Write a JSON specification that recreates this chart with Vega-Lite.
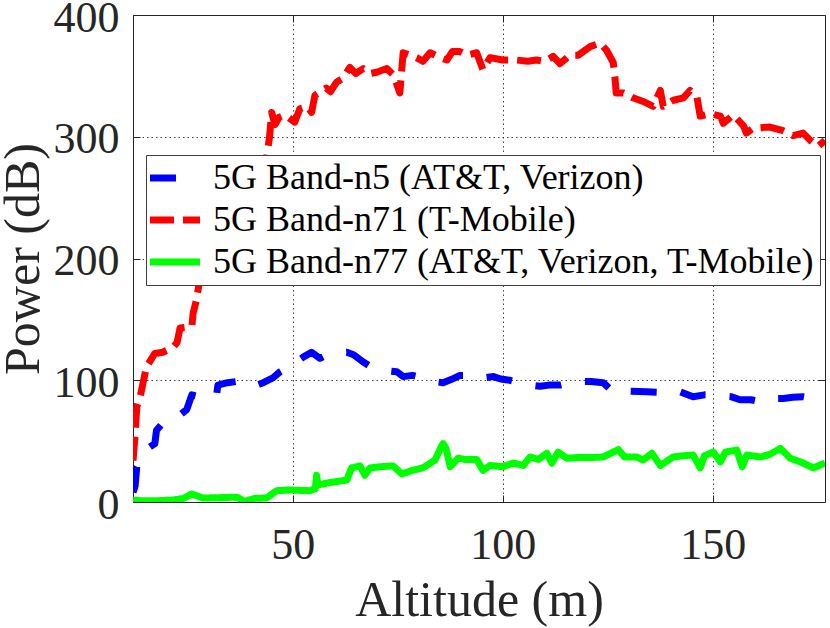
{
  "$schema": "https://vega.github.io/schema/vega-lite/v6.json",
  "width": 692,
  "height": 487,
  "autosize": {"type": "none"},
  "padding": {"left": 133, "top": 15, "right": 5, "bottom": 126},
  "background": "white",
  "config": {
    "view": {"stroke": "#262626", "strokeWidth": 1},
    "font": "Liberation Serif",
    "axis": {
      "labelFont": "Liberation Serif",
      "titleFont": "Liberation Serif",
      "labelColor": "#262626",
      "titleColor": "#262626",
      "labelFontSize": 44,
      "titleFontSize": 50,
      "titleFontWeight": "normal",
      "domain": false,
      "tickColor": "#262626",
      "tickSize": -7,
      "tickWidth": 1,
      "gridColor": "#262626",
      "gridDash": [1.5, 3],
      "gridOpacity": 0.85,
      "gridWidth": 1,
      "labelOverlap": false,
      "labelBound": false,
      "labelFlush": false
    },
    "legend": {
      "orient": "none",
      "legendX": 13,
      "legendY": 140,
      "padding": 5,
      "strokeColor": "#404040",
      "fillColor": "white",
      "labelFont": "Liberation Serif",
      "labelFontSize": 36,
      "labelColor": "black",
      "symbolType": "M-2.5,0H2.5",
      "symbolSize": 400,
      "symbolStrokeWidth": 7,
      "symbolOffset": 6,
      "rowPadding": 6,
      "labelOffset": 20,
      "labelLimit": 1000,
      "cornerRadius": 0
    }
  },
  "data": {"values": [
    {"band": "5G Band-n5 (AT&T, Verizon)", "alt": 12.0, "power": 8},
    {"band": "5G Band-n5 (AT&T, Verizon)", "alt": 12.5, "power": 13},
    {"band": "5G Band-n5 (AT&T, Verizon)", "alt": 12.9, "power": 29},
    {"band": "5G Band-n5 (AT&T, Verizon)", "alt": 15.5, "power": 44},
    {"band": "5G Band-n5 (AT&T, Verizon)", "alt": 17.2, "power": 48},
    {"band": "5G Band-n5 (AT&T, Verizon)", "alt": 17.6, "power": 59},
    {"band": "5G Band-n5 (AT&T, Verizon)", "alt": 19.1, "power": 65},
    {"band": "5G Band-n5 (AT&T, Verizon)", "alt": 21.0, "power": 68},
    {"band": "5G Band-n5 (AT&T, Verizon)", "alt": 23.0, "power": 71},
    {"band": "5G Band-n5 (AT&T, Verizon)", "alt": 24.8, "power": 76},
    {"band": "5G Band-n5 (AT&T, Verizon)", "alt": 26.0, "power": 88},
    {"band": "5G Band-n5 (AT&T, Verizon)", "alt": 29.5, "power": 85},
    {"band": "5G Band-n5 (AT&T, Verizon)", "alt": 31.9, "power": 88},
    {"band": "5G Band-n5 (AT&T, Verizon)", "alt": 32.2, "power": 96},
    {"band": "5G Band-n5 (AT&T, Verizon)", "alt": 34.5, "power": 98},
    {"band": "5G Band-n5 (AT&T, Verizon)", "alt": 36.7, "power": 99},
    {"band": "5G Band-n5 (AT&T, Verizon)", "alt": 39.8, "power": 99},
    {"band": "5G Band-n5 (AT&T, Verizon)", "alt": 41.5, "power": 96},
    {"band": "5G Band-n5 (AT&T, Verizon)", "alt": 43.0, "power": 98},
    {"band": "5G Band-n5 (AT&T, Verizon)", "alt": 45.3, "power": 102},
    {"band": "5G Band-n5 (AT&T, Verizon)", "alt": 47.0, "power": 107},
    {"band": "5G Band-n5 (AT&T, Verizon)", "alt": 49.5, "power": 112},
    {"band": "5G Band-n5 (AT&T, Verizon)", "alt": 52.5, "power": 119},
    {"band": "5G Band-n5 (AT&T, Verizon)", "alt": 54.5, "power": 123},
    {"band": "5G Band-n5 (AT&T, Verizon)", "alt": 56.5, "power": 118},
    {"band": "5G Band-n5 (AT&T, Verizon)", "alt": 58.9, "power": 122},
    {"band": "5G Band-n5 (AT&T, Verizon)", "alt": 62.9, "power": 123},
    {"band": "5G Band-n5 (AT&T, Verizon)", "alt": 64.5, "power": 121},
    {"band": "5G Band-n5 (AT&T, Verizon)", "alt": 66.8, "power": 115},
    {"band": "5G Band-n5 (AT&T, Verizon)", "alt": 69.1, "power": 110},
    {"band": "5G Band-n5 (AT&T, Verizon)", "alt": 72.0, "power": 108},
    {"band": "5G Band-n5 (AT&T, Verizon)", "alt": 74.8, "power": 107},
    {"band": "5G Band-n5 (AT&T, Verizon)", "alt": 76.3, "power": 103},
    {"band": "5G Band-n5 (AT&T, Verizon)", "alt": 78.5, "power": 104},
    {"band": "5G Band-n5 (AT&T, Verizon)", "alt": 81.0, "power": 102},
    {"band": "5G Band-n5 (AT&T, Verizon)", "alt": 83.5, "power": 99},
    {"band": "5G Band-n5 (AT&T, Verizon)", "alt": 85.8, "power": 98},
    {"band": "5G Band-n5 (AT&T, Verizon)", "alt": 88.0, "power": 101},
    {"band": "5G Band-n5 (AT&T, Verizon)", "alt": 89.8, "power": 104},
    {"band": "5G Band-n5 (AT&T, Verizon)", "alt": 93.8, "power": 104},
    {"band": "5G Band-n5 (AT&T, Verizon)", "alt": 95.5, "power": 102},
    {"band": "5G Band-n5 (AT&T, Verizon)", "alt": 97.8, "power": 103},
    {"band": "5G Band-n5 (AT&T, Verizon)", "alt": 99.5, "power": 101},
    {"band": "5G Band-n5 (AT&T, Verizon)", "alt": 101.7, "power": 100},
    {"band": "5G Band-n5 (AT&T, Verizon)", "alt": 104.0, "power": 98},
    {"band": "5G Band-n5 (AT&T, Verizon)", "alt": 106.5, "power": 96},
    {"band": "5G Band-n5 (AT&T, Verizon)", "alt": 108.9, "power": 95},
    {"band": "5G Band-n5 (AT&T, Verizon)", "alt": 111.0, "power": 96},
    {"band": "5G Band-n5 (AT&T, Verizon)", "alt": 113.6, "power": 96},
    {"band": "5G Band-n5 (AT&T, Verizon)", "alt": 117.6, "power": 99},
    {"band": "5G Band-n5 (AT&T, Verizon)", "alt": 121.0, "power": 99},
    {"band": "5G Band-n5 (AT&T, Verizon)", "alt": 123.9, "power": 98},
    {"band": "5G Band-n5 (AT&T, Verizon)", "alt": 125.5, "power": 93},
    {"band": "5G Band-n5 (AT&T, Verizon)", "alt": 127.1, "power": 89},
    {"band": "5G Band-n5 (AT&T, Verizon)", "alt": 130.0, "power": 91},
    {"band": "5G Band-n5 (AT&T, Verizon)", "alt": 134.3, "power": 90.6},
    {"band": "5G Band-n5 (AT&T, Verizon)", "alt": 138.0, "power": 90},
    {"band": "5G Band-n5 (AT&T, Verizon)", "alt": 142.2, "power": 90.6},
    {"band": "5G Band-n5 (AT&T, Verizon)", "alt": 145.3, "power": 86.5},
    {"band": "5G Band-n5 (AT&T, Verizon)", "alt": 148.0, "power": 88},
    {"band": "5G Band-n5 (AT&T, Verizon)", "alt": 150.1, "power": 88},
    {"band": "5G Band-n5 (AT&T, Verizon)", "alt": 152.0, "power": 87},
    {"band": "5G Band-n5 (AT&T, Verizon)", "alt": 154.3, "power": 86.5},
    {"band": "5G Band-n5 (AT&T, Verizon)", "alt": 156.5, "power": 84},
    {"band": "5G Band-n5 (AT&T, Verizon)", "alt": 159.0, "power": 84},
    {"band": "5G Band-n5 (AT&T, Verizon)", "alt": 162.0, "power": 82},
    {"band": "5G Band-n5 (AT&T, Verizon)", "alt": 164.5, "power": 85},
    {"band": "5G Band-n5 (AT&T, Verizon)", "alt": 166.8, "power": 85},
    {"band": "5G Band-n5 (AT&T, Verizon)", "alt": 169.0, "power": 86},
    {"band": "5G Band-n5 (AT&T, Verizon)", "alt": 171.5, "power": 86.5},
    {"band": "5G Band-n5 (AT&T, Verizon)", "alt": 174.0, "power": 85},
    {"band": "5G Band-n5 (AT&T, Verizon)", "alt": 176.7, "power": 84},

    {"band": "5G Band-n71 (T-Mobile)", "alt": 12.0, "power": 34},
    {"band": "5G Band-n71 (T-Mobile)", "alt": 12.5, "power": 55},
    {"band": "5G Band-n71 (T-Mobile)", "alt": 12.9, "power": 78},
    {"band": "5G Band-n71 (T-Mobile)", "alt": 13.8, "power": 88},
    {"band": "5G Band-n71 (T-Mobile)", "alt": 15.2, "power": 111},
    {"band": "5G Band-n71 (T-Mobile)", "alt": 17.2, "power": 122},
    {"band": "5G Band-n71 (T-Mobile)", "alt": 19.1, "power": 123},
    {"band": "5G Band-n71 (T-Mobile)", "alt": 21.5, "power": 127},
    {"band": "5G Band-n71 (T-Mobile)", "alt": 22.5, "power": 131},
    {"band": "5G Band-n71 (T-Mobile)", "alt": 23.2, "power": 143},
    {"band": "5G Band-n71 (T-Mobile)", "alt": 26.0, "power": 144},
    {"band": "5G Band-n71 (T-Mobile)", "alt": 26.3, "power": 155},
    {"band": "5G Band-n71 (T-Mobile)", "alt": 27.1, "power": 166},
    {"band": "5G Band-n71 (T-Mobile)", "alt": 28.0, "power": 185},
    {"band": "5G Band-n71 (T-Mobile)", "alt": 30.0, "power": 203},
    {"band": "5G Band-n71 (T-Mobile)", "alt": 33.0, "power": 222},
    {"band": "5G Band-n71 (T-Mobile)", "alt": 36.0, "power": 243},
    {"band": "5G Band-n71 (T-Mobile)", "alt": 39.0, "power": 262},
    {"band": "5G Band-n71 (T-Mobile)", "alt": 42.0, "power": 275},
    {"band": "5G Band-n71 (T-Mobile)", "alt": 43.8, "power": 283},
    {"band": "5G Band-n71 (T-Mobile)", "alt": 44.5, "power": 300},
    {"band": "5G Band-n71 (T-Mobile)", "alt": 45.0, "power": 320},
    {"band": "5G Band-n71 (T-Mobile)", "alt": 45.8, "power": 310},
    {"band": "5G Band-n71 (T-Mobile)", "alt": 46.8, "power": 316},
    {"band": "5G Band-n71 (T-Mobile)", "alt": 48.2, "power": 318},
    {"band": "5G Band-n71 (T-Mobile)", "alt": 50.5, "power": 312},
    {"band": "5G Band-n71 (T-Mobile)", "alt": 51.7, "power": 323},
    {"band": "5G Band-n71 (T-Mobile)", "alt": 53.5, "power": 325},
    {"band": "5G Band-n71 (T-Mobile)", "alt": 54.5, "power": 320},
    {"band": "5G Band-n71 (T-Mobile)", "alt": 55.3, "power": 334},
    {"band": "5G Band-n71 (T-Mobile)", "alt": 58.0, "power": 340},
    {"band": "5G Band-n71 (T-Mobile)", "alt": 59.0, "power": 337},
    {"band": "5G Band-n71 (T-Mobile)", "alt": 60.5, "power": 345},
    {"band": "5G Band-n71 (T-Mobile)", "alt": 62.0, "power": 348},
    {"band": "5G Band-n71 (T-Mobile)", "alt": 63.6, "power": 357},
    {"band": "5G Band-n71 (T-Mobile)", "alt": 65.0, "power": 352},
    {"band": "5G Band-n71 (T-Mobile)", "alt": 66.8, "power": 356},
    {"band": "5G Band-n71 (T-Mobile)", "alt": 68.5, "power": 352},
    {"band": "5G Band-n71 (T-Mobile)", "alt": 70.0, "power": 353},
    {"band": "5G Band-n71 (T-Mobile)", "alt": 72.4, "power": 356},
    {"band": "5G Band-n71 (T-Mobile)", "alt": 73.9, "power": 351},
    {"band": "5G Band-n71 (T-Mobile)", "alt": 75.0, "power": 341},
    {"band": "5G Band-n71 (T-Mobile)", "alt": 75.5, "power": 336},
    {"band": "5G Band-n71 (T-Mobile)", "alt": 76.3, "power": 369},
    {"band": "5G Band-n71 (T-Mobile)", "alt": 78.0, "power": 367},
    {"band": "5G Band-n71 (T-Mobile)", "alt": 79.5, "power": 365},
    {"band": "5G Band-n71 (T-Mobile)", "alt": 81.0, "power": 362},
    {"band": "5G Band-n71 (T-Mobile)", "alt": 82.7, "power": 369},
    {"band": "5G Band-n71 (T-Mobile)", "alt": 84.5, "power": 366},
    {"band": "5G Band-n71 (T-Mobile)", "alt": 86.7, "power": 363},
    {"band": "5G Band-n71 (T-Mobile)", "alt": 88.0, "power": 370},
    {"band": "5G Band-n71 (T-Mobile)", "alt": 89.8, "power": 370},
    {"band": "5G Band-n71 (T-Mobile)", "alt": 91.5, "power": 367},
    {"band": "5G Band-n71 (T-Mobile)", "alt": 93.8, "power": 369},
    {"band": "5G Band-n71 (T-Mobile)", "alt": 95.3, "power": 355},
    {"band": "5G Band-n71 (T-Mobile)", "alt": 97.0, "power": 365},
    {"band": "5G Band-n71 (T-Mobile)", "alt": 100.0, "power": 363},
    {"band": "5G Band-n71 (T-Mobile)", "alt": 103.3, "power": 363},
    {"band": "5G Band-n71 (T-Mobile)", "alt": 106.0, "power": 362},
    {"band": "5G Band-n71 (T-Mobile)", "alt": 108.0, "power": 363},
    {"band": "5G Band-n71 (T-Mobile)", "alt": 110.0, "power": 362},
    {"band": "5G Band-n71 (T-Mobile)", "alt": 112.0, "power": 366},
    {"band": "5G Band-n71 (T-Mobile)", "alt": 113.6, "power": 360},
    {"band": "5G Band-n71 (T-Mobile)", "alt": 116.0, "power": 367},
    {"band": "5G Band-n71 (T-Mobile)", "alt": 118.0, "power": 367},
    {"band": "5G Band-n71 (T-Mobile)", "alt": 120.8, "power": 374},
    {"band": "5G Band-n71 (T-Mobile)", "alt": 123.2, "power": 377},
    {"band": "5G Band-n71 (T-Mobile)", "alt": 124.7, "power": 371},
    {"band": "5G Band-n71 (T-Mobile)", "alt": 126.3, "power": 361},
    {"band": "5G Band-n71 (T-Mobile)", "alt": 126.7, "power": 349},
    {"band": "5G Band-n71 (T-Mobile)", "alt": 127.0, "power": 336},
    {"band": "5G Band-n71 (T-Mobile)", "alt": 128.7, "power": 336},
    {"band": "5G Band-n71 (T-Mobile)", "alt": 131.0, "power": 332},
    {"band": "5G Band-n71 (T-Mobile)", "alt": 133.4, "power": 329},
    {"band": "5G Band-n71 (T-Mobile)", "alt": 135.8, "power": 325},
    {"band": "5G Band-n71 (T-Mobile)", "alt": 137.5, "power": 338},
    {"band": "5G Band-n71 (T-Mobile)", "alt": 138.2, "power": 325},
    {"band": "5G Band-n71 (T-Mobile)", "alt": 140.6, "power": 330},
    {"band": "5G Band-n71 (T-Mobile)", "alt": 143.0, "power": 332},
    {"band": "5G Band-n71 (T-Mobile)", "alt": 144.6, "power": 338},
    {"band": "5G Band-n71 (T-Mobile)", "alt": 146.2, "power": 333},
    {"band": "5G Band-n71 (T-Mobile)", "alt": 147.0, "power": 317},
    {"band": "5G Band-n71 (T-Mobile)", "alt": 149.4, "power": 319},
    {"band": "5G Band-n71 (T-Mobile)", "alt": 151.8, "power": 317},
    {"band": "5G Band-n71 (T-Mobile)", "alt": 152.5, "power": 311},
    {"band": "5G Band-n71 (T-Mobile)", "alt": 154.9, "power": 318},
    {"band": "5G Band-n71 (T-Mobile)", "alt": 157.3, "power": 309},
    {"band": "5G Band-n71 (T-Mobile)", "alt": 158.0, "power": 303},
    {"band": "5G Band-n71 (T-Mobile)", "alt": 159.6, "power": 307},
    {"band": "5G Band-n71 (T-Mobile)", "alt": 163.6, "power": 308},
    {"band": "5G Band-n71 (T-Mobile)", "alt": 166.7, "power": 305},
    {"band": "5G Band-n71 (T-Mobile)", "alt": 169.1, "power": 301},
    {"band": "5G Band-n71 (T-Mobile)", "alt": 171.5, "power": 303},
    {"band": "5G Band-n71 (T-Mobile)", "alt": 173.2, "power": 297},
    {"band": "5G Band-n71 (T-Mobile)", "alt": 175.0, "power": 292},
    {"band": "5G Band-n71 (T-Mobile)", "alt": 176.7, "power": 297},

    {"band": "5G Band-n77 (AT&T, Verizon, T-Mobile)", "alt": 12.0, "power": 1.6},
    {"band": "5G Band-n77 (AT&T, Verizon, T-Mobile)", "alt": 14.0, "power": 1},
    {"band": "5G Band-n77 (AT&T, Verizon, T-Mobile)", "alt": 17.5, "power": 1},
    {"band": "5G Band-n77 (AT&T, Verizon, T-Mobile)", "alt": 21.5, "power": 1.6},
    {"band": "5G Band-n77 (AT&T, Verizon, T-Mobile)", "alt": 24.0, "power": 3},
    {"band": "5G Band-n77 (AT&T, Verizon, T-Mobile)", "alt": 26.0, "power": 6.6},
    {"band": "5G Band-n77 (AT&T, Verizon, T-Mobile)", "alt": 28.6, "power": 3.3},
    {"band": "5G Band-n77 (AT&T, Verizon, T-Mobile)", "alt": 32.0, "power": 3.5},
    {"band": "5G Band-n77 (AT&T, Verizon, T-Mobile)", "alt": 36.7, "power": 4},
    {"band": "5G Band-n77 (AT&T, Verizon, T-Mobile)", "alt": 38.6, "power": 0.5},
    {"band": "5G Band-n77 (AT&T, Verizon, T-Mobile)", "alt": 41.0, "power": 3},
    {"band": "5G Band-n77 (AT&T, Verizon, T-Mobile)", "alt": 43.8, "power": 3.3},
    {"band": "5G Band-n77 (AT&T, Verizon, T-Mobile)", "alt": 46.2, "power": 9.3},
    {"band": "5G Band-n77 (AT&T, Verizon, T-Mobile)", "alt": 49.4, "power": 9.9},
    {"band": "5G Band-n77 (AT&T, Verizon, T-Mobile)", "alt": 52.0, "power": 9.5},
    {"band": "5G Band-n77 (AT&T, Verizon, T-Mobile)", "alt": 54.1, "power": 9.3},
    {"band": "5G Band-n77 (AT&T, Verizon, T-Mobile)", "alt": 55.4, "power": 11},
    {"band": "5G Band-n77 (AT&T, Verizon, T-Mobile)", "alt": 55.7, "power": 22},
    {"band": "5G Band-n77 (AT&T, Verizon, T-Mobile)", "alt": 56.0, "power": 14},
    {"band": "5G Band-n77 (AT&T, Verizon, T-Mobile)", "alt": 58.9, "power": 16},
    {"band": "5G Band-n77 (AT&T, Verizon, T-Mobile)", "alt": 62.9, "power": 18},
    {"band": "5G Band-n77 (AT&T, Verizon, T-Mobile)", "alt": 64.0, "power": 28},
    {"band": "5G Band-n77 (AT&T, Verizon, T-Mobile)", "alt": 66.0, "power": 29.6},
    {"band": "5G Band-n77 (AT&T, Verizon, T-Mobile)", "alt": 67.2, "power": 22},
    {"band": "5G Band-n77 (AT&T, Verizon, T-Mobile)", "alt": 68.4, "power": 28},
    {"band": "5G Band-n77 (AT&T, Verizon, T-Mobile)", "alt": 71.0, "power": 29},
    {"band": "5G Band-n77 (AT&T, Verizon, T-Mobile)", "alt": 73.9, "power": 29.6},
    {"band": "5G Band-n77 (AT&T, Verizon, T-Mobile)", "alt": 76.0, "power": 23},
    {"band": "5G Band-n77 (AT&T, Verizon, T-Mobile)", "alt": 78.5, "power": 26},
    {"band": "5G Band-n77 (AT&T, Verizon, T-Mobile)", "alt": 81.0, "power": 28},
    {"band": "5G Band-n77 (AT&T, Verizon, T-Mobile)", "alt": 83.9, "power": 34.5},
    {"band": "5G Band-n77 (AT&T, Verizon, T-Mobile)", "alt": 85.3, "power": 45},
    {"band": "5G Band-n77 (AT&T, Verizon, T-Mobile)", "alt": 85.8, "power": 48},
    {"band": "5G Band-n77 (AT&T, Verizon, T-Mobile)", "alt": 86.5, "power": 44},
    {"band": "5G Band-n77 (AT&T, Verizon, T-Mobile)", "alt": 87.5, "power": 29},
    {"band": "5G Band-n77 (AT&T, Verizon, T-Mobile)", "alt": 89.4, "power": 36},
    {"band": "5G Band-n77 (AT&T, Verizon, T-Mobile)", "alt": 91.0, "power": 35},
    {"band": "5G Band-n77 (AT&T, Verizon, T-Mobile)", "alt": 93.8, "power": 35},
    {"band": "5G Band-n77 (AT&T, Verizon, T-Mobile)", "alt": 95.3, "power": 26},
    {"band": "5G Band-n77 (AT&T, Verizon, T-Mobile)", "alt": 97.0, "power": 30},
    {"band": "5G Band-n77 (AT&T, Verizon, T-Mobile)", "alt": 100.0, "power": 29},
    {"band": "5G Band-n77 (AT&T, Verizon, T-Mobile)", "alt": 102.5, "power": 32},
    {"band": "5G Band-n77 (AT&T, Verizon, T-Mobile)", "alt": 104.9, "power": 30},
    {"band": "5G Band-n77 (AT&T, Verizon, T-Mobile)", "alt": 106.5, "power": 37},
    {"band": "5G Band-n77 (AT&T, Verizon, T-Mobile)", "alt": 108.5, "power": 35},
    {"band": "5G Band-n77 (AT&T, Verizon, T-Mobile)", "alt": 110.5, "power": 40},
    {"band": "5G Band-n77 (AT&T, Verizon, T-Mobile)", "alt": 111.7, "power": 32},
    {"band": "5G Band-n77 (AT&T, Verizon, T-Mobile)", "alt": 113.2, "power": 41},
    {"band": "5G Band-n77 (AT&T, Verizon, T-Mobile)", "alt": 115.2, "power": 36},
    {"band": "5G Band-n77 (AT&T, Verizon, T-Mobile)", "alt": 118.0, "power": 36.5},
    {"band": "5G Band-n77 (AT&T, Verizon, T-Mobile)", "alt": 121.0, "power": 36.5},
    {"band": "5G Band-n77 (AT&T, Verizon, T-Mobile)", "alt": 123.9, "power": 37},
    {"band": "5G Band-n77 (AT&T, Verizon, T-Mobile)", "alt": 127.5, "power": 43},
    {"band": "5G Band-n77 (AT&T, Verizon, T-Mobile)", "alt": 129.0, "power": 37},
    {"band": "5G Band-n77 (AT&T, Verizon, T-Mobile)", "alt": 131.9, "power": 37},
    {"band": "5G Band-n77 (AT&T, Verizon, T-Mobile)", "alt": 133.4, "power": 34.5},
    {"band": "5G Band-n77 (AT&T, Verizon, T-Mobile)", "alt": 135.5, "power": 40},
    {"band": "5G Band-n77 (AT&T, Verizon, T-Mobile)", "alt": 137.5, "power": 30},
    {"band": "5G Band-n77 (AT&T, Verizon, T-Mobile)", "alt": 140.6, "power": 37},
    {"band": "5G Band-n77 (AT&T, Verizon, T-Mobile)", "alt": 143.0, "power": 38},
    {"band": "5G Band-n77 (AT&T, Verizon, T-Mobile)", "alt": 145.3, "power": 38.6},
    {"band": "5G Band-n77 (AT&T, Verizon, T-Mobile)", "alt": 147.0, "power": 28},
    {"band": "5G Band-n77 (AT&T, Verizon, T-Mobile)", "alt": 148.0, "power": 38},
    {"band": "5G Band-n77 (AT&T, Verizon, T-Mobile)", "alt": 150.1, "power": 41},
    {"band": "5G Band-n77 (AT&T, Verizon, T-Mobile)", "alt": 151.8, "power": 33},
    {"band": "5G Band-n77 (AT&T, Verizon, T-Mobile)", "alt": 153.0, "power": 41},
    {"band": "5G Band-n77 (AT&T, Verizon, T-Mobile)", "alt": 155.7, "power": 42.7},
    {"band": "5G Band-n77 (AT&T, Verizon, T-Mobile)", "alt": 157.0, "power": 29},
    {"band": "5G Band-n77 (AT&T, Verizon, T-Mobile)", "alt": 158.1, "power": 38.6},
    {"band": "5G Band-n77 (AT&T, Verizon, T-Mobile)", "alt": 161.3, "power": 37},
    {"band": "5G Band-n77 (AT&T, Verizon, T-Mobile)", "alt": 163.5, "power": 39},
    {"band": "5G Band-n77 (AT&T, Verizon, T-Mobile)", "alt": 166.1, "power": 44},
    {"band": "5G Band-n77 (AT&T, Verizon, T-Mobile)", "alt": 168.4, "power": 36},
    {"band": "5G Band-n77 (AT&T, Verizon, T-Mobile)", "alt": 171.5, "power": 32},
    {"band": "5G Band-n77 (AT&T, Verizon, T-Mobile)", "alt": 173.9, "power": 28},
    {"band": "5G Band-n77 (AT&T, Verizon, T-Mobile)", "alt": 176.7, "power": 32}
  ]},
  "layer": [
    {
      "mark": {"type": "line", "strokeWidth": 7, "strokeCap": "butt", "strokeJoin": "round", "clip": true},
      "encoding": {
        "x": {
          "field": "alt", "type": "quantitative",
          "scale": {"domain": [12, 176.7], "nice": false, "zero": false},
          "axis": {
            "orient": "bottom",
            "values": [50, 100, 150],
            "title": "Altitude (m)",
            "labelBaseline": "alphabetic",
            "labelPadding": 63,
            "titleBaseline": "alphabetic",
            "titleX": 346,
            "titleY": 113,
            "titleAnchor": "middle",
            "titleAlign": "center"
          }
        },
        "y": {
          "field": "power", "type": "quantitative",
          "scale": {"domain": [0, 400], "nice": false},
          "axis": {
            "orient": "left",
            "values": [0, 100, 200, 300, 400],
            "title": "Power (dB)",
            "labelPadding": 21,
            "labelBaseline": "alphabetic",
            "labelOffset": 16,
            "titleAngle": -90,
            "titleBaseline": "alphabetic",
            "titleX": -95,
            "titleY": 243.5,
            "titleAlign": "center",
            "titleAnchor": "middle"
          }
        },
        "color": {
          "field": "band", "type": "nominal", "title": null,
          "scale": {
            "domain": ["5G Band-n5 (AT&T, Verizon)", "5G Band-n71 (T-Mobile)", "5G Band-n77 (AT&T, Verizon, T-Mobile)"],
            "range": ["#0000FF", "#FF0000", "#00FF00"]
          },
          "legend": {"labelFont": "Liberation Serif", "labelFontSize": 36}
        },
        "strokeDash": {
          "field": "band", "type": "nominal", "title": null,
          "scale": {
            "domain": ["5G Band-n5 (AT&T, Verizon)", "5G Band-n71 (T-Mobile)", "5G Band-n77 (AT&T, Verizon, T-Mobile)"],
            "range": [[26, 24], [24, 9], [1, 0]]
          },
          "legend": {"labelFont": "Liberation Serif", "labelFontSize": 36}
        },
        "order": {"field": "alt", "type": "quantitative"}
      }
    },
    {
      "mark": {"type": "line", "opacity": 0},
      "encoding": {
        "x": {
          "field": "alt", "type": "quantitative",
          "axis": {"orient": "top", "values": [50, 100, 150], "labels": false, "title": null, "grid": false}
        },
        "y": {
          "field": "power", "type": "quantitative",
          "axis": {"orient": "right", "values": [0, 100, 200, 300, 400], "labels": false, "title": null, "grid": false}
        },
        "detail": {"field": "band"}
      }
    }
  ],
  "resolve": {"axis": {"x": "independent", "y": "independent"}}
}
